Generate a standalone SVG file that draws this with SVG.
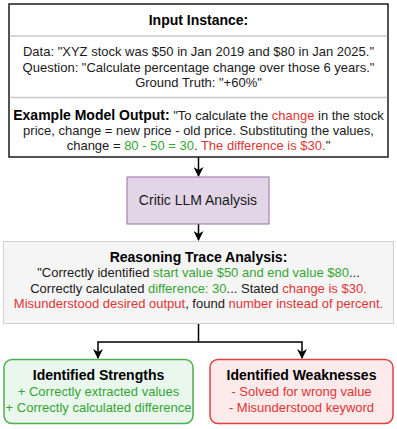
<svg xmlns="http://www.w3.org/2000/svg" width="397" height="429" viewBox="0 0 397 429">
<style>
text{font-family:"Liberation Sans",Arial,sans-serif;font-size:13px;fill:#1a1a1a;text-anchor:middle}
.t{font-weight:bold;font-size:14px;fill:#000}
.g{fill:#34a534}
.r{fill:#e03434}
.c{fill:none;stroke:#000;stroke-width:1.5}
</style>
<defs>
<marker id="ah" markerUnits="userSpaceOnUse" markerWidth="10" markerHeight="10" viewBox="0 0 10 10" refX="9" refY="5" orient="auto">
<path d="M0 0 L10 5 L0 10 L3 5 Z" fill="#000"/>
</marker>
</defs>
<rect width="397" height="429" fill="#fff"/>
<g id="connectors">
<path class="c" d="M198.5 157 V176" marker-end="url(#ah)"/>
<path class="c" d="M198.5 224 V240" marker-end="url(#ah)"/>
<path class="c" d="M198.5 324 V342 H98 V358" marker-end="url(#ah)"/>
<path class="c" d="M198.5 342 H302 V358" marker-end="url(#ah)"/>
</g>
<g id="input">
<rect x="9" y="4" width="379" height="153" fill="#fff" stroke="#1a1a1a" stroke-width="1.5"/>
<line x1="9.75" y1="36" x2="387.25" y2="36" stroke="#c8c8c8" stroke-width="1.5"/>
<line x1="9.75" y1="97.5" x2="387.25" y2="97.5" stroke="#c8c8c8" stroke-width="1.5"/>
<text class="t" x="198.5" y="25">Input Instance:</text>
<text x="198.5" y="56">Data: "XYZ stock was $50 in Jan 2019 and $80 in Jan 2025."</text>
<text x="198.5" y="71.5">Question: "Calculate percentage change over those 6 years."</text>
<text x="198.5" y="86.5">Ground Truth: "+60%"</text>
<text x="198.5" y="120"><tspan class="t">Example Model Output:</tspan> "To calculate the <tspan class="r">change</tspan> in the stock</text>
<text x="198.5" y="135">price, change = new price - old price. Substituting the values,</text>
<text x="198.5" y="150">change = <tspan class="g">80 - 50 = 30</tspan>. <tspan class="r">The difference is $30.</tspan>"</text>
</g>
<g id="critic">
<rect x="127" y="177" width="142" height="47" fill="#e1d5e7" stroke="#9673a6" stroke-width="1"/>
<text x="198" y="205" style="font-size:14px">Critic LLM Analysis</text>
</g>
<g id="trace">
<rect x="3.5" y="241.5" width="390" height="82" fill="#f5f5f5" stroke="#d0d0d0" stroke-width="1"/>
<text class="t" x="198.5" y="262">Reasoning Trace Analysis:</text>
<text x="198.5" y="277">"Correctly identified <tspan class="g">start value $50 and end value $80</tspan>...</text>
<text x="198.5" y="292.5">Correctly calculated <tspan class="g">difference: 30</tspan>... Stated <tspan class="r">change is $30.</tspan></text>
<text x="198.5" y="308"><tspan class="r">Misunderstood desired output</tspan>, found <tspan class="r">number instead of percent.</tspan></text>
</g>
<g id="strengths">
<rect x="4" y="359.5" width="189" height="64" rx="8" fill="#eaf7ec" stroke="#4cae4c" stroke-width="1.5"/>
<text class="t" x="98.5" y="380">Identified Strengths</text>
<text class="g" x="98.5" y="396">+ Correctly extracted values</text>
<text class="g" x="98.5" y="412">+ Correctly calculated difference</text>
</g>
<g id="weaknesses">
<rect x="210" y="359.5" width="183" height="64" rx="8" fill="#fdeaea" stroke="#e04040" stroke-width="1.5"/>
<text class="t" x="301.5" y="380">Identified Weaknesses</text>
<text class="r" x="301.5" y="396">- Solved for wrong value</text>
<text class="r" x="301.5" y="412">- Misunderstood keyword</text>
</g>
</svg>
